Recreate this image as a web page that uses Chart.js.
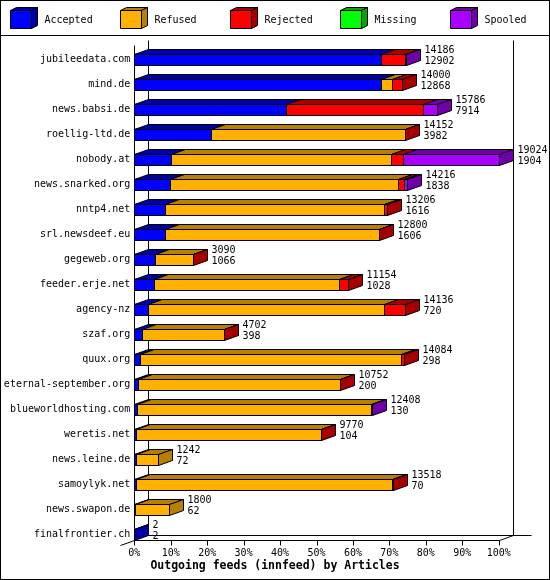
<!DOCTYPE html>
<html>
<head>
<meta charset="utf-8">
<title>Outgoing feeds (innfeed) by Articles</title>
<script src="https://cdn.jsdelivr.net/npm/chart.js@4.4.1/dist/chart.umd.min.js"></script>
<style>
    html, body { margin: 0; padding: 0; background: #fff; }
    canvas { display: block; }
</style>
</head>
<body>
<canvas id="feedChart" width="550" height="580"></canvas>
<script>
        // ============================================
        // DATA (articles per peer)
        // ============================================
        const hosts = ['jubileedata.com', 'mind.de', 'news.babsi.de', 'roellig-ltd.de', 'nobody.at',
            'news.snarked.org', 'nntp4.net', 'srl.newsdeef.eu', 'gegeweb.org', 'feeder.erje.net',
            'agency-nz', 'szaf.org', 'quux.org', 'eternal-september.org', 'blueworldhosting.com',
            'weretis.net', 'news.leine.de', 'samoylyk.net', 'news.swapon.de', 'finalfrontier.ch'];
        const offered  = [14186, 14000, 15786, 14152, 19024, 14216, 13206, 12800, 3090, 11154,
                          14136, 4702, 14084, 10752, 12408, 9770, 1242, 13518, 1800, 2];
        const accepted = [12902, 12868, 7914, 3982, 1904, 1838, 1616, 1606, 1066, 1028,
                          720, 398, 298, 200, 130, 104, 72, 70, 62, 2];
        const refused  = [0, 600, 0, 10150, 11513, 11940, 11410, 11154, 2004, 9668,
                          12328, 4274, 13606, 10532, 12248, 9646, 1170, 13408, 1738, 0];
        const rejected = [1254, 532, 7160, 20, 627, 280, 180, 40, 20, 458,
                          1088, 30, 180, 20, 0, 20, 0, 40, 0, 0];
        const missing  = [0, 0, 0, 0, 0, 0, 0, 0, 0, 0,
                          0, 0, 0, 0, 0, 0, 0, 0, 0, 0];
        const spooled  = [30, 0, 712, 0, 4980, 158, 0, 0, 0, 0,
                          0, 0, 0, 0, 30, 0, 0, 0, 0, 0];
        const seriesNames = ['Accepted', 'Refused', 'Rejected', 'Missing', 'Spooled'];
        const xTicks = [0, 10, 20, 30, 40, 50, 60, 70, 80, 90, 100];
        const chartTitle = 'Outgoing feeds (innfeed) by Articles';

        // front colour / top+side shade
        const frontColors = ['#0000FF', '#FFB000', '#FF0000', '#00FF00', '#AA00FF'];
        const shadeColors = ['#0000A8', '#B88000', '#A80000', '#00A800', '#7200AA'];

        const MONO = '"DejaVu Sans Mono", "Liberation Mono", monospace';
        const DX = 14, DY = 5;   // bar depth

        const series = [accepted, refused, rejected, missing, spooled];
        const scaleMax = Math.max(...offered);
        const toPct = v => v / scaleMax * 100;
        const px = v => Math.round(v) + 0.5;

        // ============================================
        // PLUGINS
        // ============================================
        const wallsPlugin = {
            id: 'walls',
            beforeDatasetsDraw(chart) {
                const { ctx, chartArea: a, scales: { x } } = chart;
                const left = px(a.left), right = px(a.right);
                const floor = px(a.bottom - 7);
                const top = px(a.top - 7);
                ctx.save();
                ctx.strokeStyle = '#000';
                ctx.lineWidth = 1;
                ctx.beginPath();
                ctx.moveTo(left, top + DY);
                ctx.lineTo(left, floor);
                ctx.moveTo(left + DX, top);
                ctx.lineTo(left + DX, floor - DY);
                ctx.moveTo(right + DX, top);
                ctx.lineTo(right + DX, floor - DY);
                ctx.moveTo(left - DX, floor + DY);
                ctx.lineTo(left, floor);
                ctx.lineTo(right, floor);
                ctx.lineTo(right + DX, floor - DY);
                ctx.moveTo(left + DX, floor - DY);
                ctx.lineTo(right + DX + 18, floor - DY);
                xTicks.forEach(t => {
                    const tx = px(x.getPixelForValue(t));
                    ctx.moveTo(tx, floor);
                    ctx.lineTo(tx, floor + 5);
                });
                ctx.stroke();
                ctx.restore();
            }
        };

        function poly(ctx, pts, fill) {
            ctx.beginPath();
            ctx.moveTo(pts[0][0], pts[0][1]);
            for (let k = 1; k < pts.length; k++) ctx.lineTo(pts[k][0], pts[k][1]);
            ctx.closePath();
            ctx.fillStyle = fill;
            ctx.fill();
            ctx.stroke();
        }

        const cubePlugin = {
            id: 'cubes',
            afterDatasetsDraw(chart) {
                const ctx = chart.ctx;
                ctx.save();
                ctx.lineWidth = 1;
                ctx.strokeStyle = '#000';
                hosts.forEach((host, i) => {
                    const segs = [];
                    let cy = 0;
                    chart.data.datasets.forEach((ds, d) => {
                        const el = chart.getDatasetMeta(d).data[i];
                        const p = el.getProps(['x', 'base', 'y', 'height'], true);
                        cy = p.y;
                        if (!ds.data[i]) return;
                        segs.push({
                            d: d,
                            x0: px(Math.min(p.base, p.x)),
                            x1: px(Math.max(p.base, p.x)),
                            yt: px(p.y - p.height / 2),
                            yb: px(p.y + p.height / 2)
                        });
                    });
                    segs.forEach(s => {
                        poly(ctx, [[s.x0, s.yt], [s.x1, s.yt], [s.x1, s.yb], [s.x0, s.yb]], frontColors[s.d]);
                        poly(ctx, [[s.x0, s.yt], [s.x0 + DX, s.yt - DY], [s.x1 + DX, s.yt - DY], [s.x1, s.yt]], shadeColors[s.d]);
                    });
                    const last = segs[segs.length - 1];
                    poly(ctx, [[last.x1, last.yt], [last.x1 + DX, last.yt - DY], [last.x1 + DX, last.yb - DY], [last.x1, last.yb]], shadeColors[last.d]);

                    ctx.fillStyle = '#000';
                    ctx.font = '10px ' + MONO;
                    ctx.textAlign = 'left';
                    ctx.textBaseline = 'middle';
                    ctx.fillText(String(offered[i]), last.x1 + DX + 4, cy - 9.5);
                    ctx.fillText(String(accepted[i]), last.x1 + DX + 4, cy + 2);
                });
                ctx.restore();
            }
        };

        const legendPlugin = {
            id: 'cubeLegend',
            afterDraw(chart) {
                const ctx = chart.ctx;
                ctx.save();
                ctx.lineWidth = 1;
                ctx.strokeStyle = '#000';
                seriesNames.forEach((name, d) => {
                    const x = 10.5 + d * 110, y = 10.5, w = 21, h = 18, dx = 6, dy = 3;
                    poly(ctx, [[x, y], [x + w, y], [x + w, y + h], [x, y + h]], frontColors[d]);
                    poly(ctx, [[x, y], [x + dx, y - dy], [x + w + dx, y - dy], [x + w, y]], shadeColors[d]);
                    poly(ctx, [[x + w, y], [x + w + dx, y - dy], [x + w + dx, y + h - dy], [x + w, y + h]], shadeColors[d]);
                    ctx.fillStyle = '#000';
                    ctx.font = '10px ' + MONO;
                    ctx.textAlign = 'left';
                    ctx.textBaseline = 'middle';
                    ctx.fillText(name, x + 34, 20);
                });
                ctx.beginPath();
                ctx.moveTo(0, 35.5);
                ctx.lineTo(chart.width, 35.5);
                ctx.stroke();
                ctx.strokeRect(0.5, 0.5, chart.width - 1, chart.height - 1);

                // title, centred on the whole picture
                ctx.font = 'bold 11.5px ' + MONO;
                ctx.textAlign = 'center';
                ctx.fillText(chartTitle, chart.width / 2, chart.height - 13.5);
                ctx.restore();
            }
        };

        // ============================================
        // CHART
        // ============================================
        new Chart(document.getElementById('feedChart'), {
            type: 'bar',
            data: {
                labels: hosts,
                datasets: seriesNames.map((name, d) => ({
                    label: name,
                    data: series[d].map(toPct),
                    backgroundColor: frontColors[d],
                    borderWidth: 0,
                    barThickness: 11
                }))
            },
            options: {
                indexAxis: 'y',
                responsive: false,
                animation: false,
                layout: {
                    padding: { top: 47.2, right: 51.3, left: 0, bottom: 20 }
                },
                plugins: {
                    legend: { display: false },
                    tooltip: { enabled: false },
                    title: { display: false }
                },
                scales: {
                    x: {
                        stacked: true,
                        min: 0,
                        max: 100,
                        afterBuildTicks: s => { s.ticks = xTicks.map(v => ({ value: v })); },
                        afterFit: s => { s.height = 13; },
                        ticks: {
                            callback: v => v + '%',
                            color: '#000',
                            font: { family: MONO, size: 10 },
                            padding: 0,
                            maxRotation: 0,
                            autoSkip: false
                        },
                        grid: { display: false, drawTicks: false },
                        border: { display: false }
                    },
                    y: {
                        stacked: true,
                        afterFit: s => { s.width = 134.3; },
                        ticks: {
                            color: '#000',
                            font: { family: MONO, size: 10 },
                            padding: 4,
                            autoSkip: false
                        },
                        grid: { display: false, drawTicks: false },
                        border: { display: false }
                    }
                }
            },
            plugins: [wallsPlugin, cubePlugin, legendPlugin]
        });
</script>
</body>
</html>
